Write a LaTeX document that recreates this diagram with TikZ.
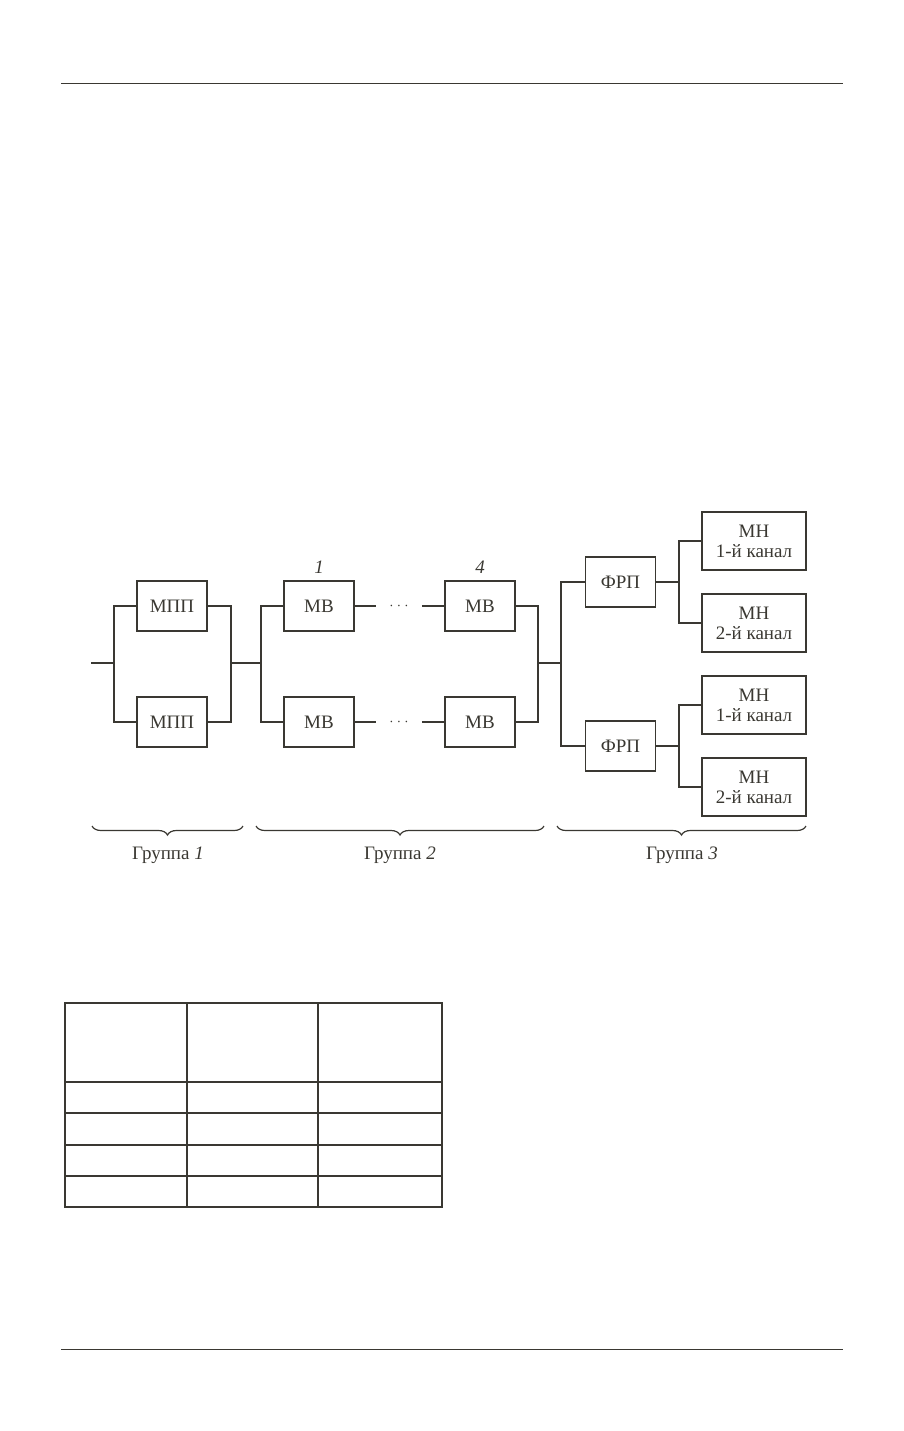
\documentclass[tikz,border=0pt]{standalone}
\usepackage{fontspec}
\setmainfont{Liberation Serif}
\usetikzlibrary{decorations.pathreplacing}
\definecolor{ink}{HTML}{3A3832}

\begin{document}
\begin{tikzpicture}[x=0.5pt,y=-0.5pt,line width=0.75pt,draw=ink,text=ink,
        blk/.style={draw,minimum width=35pt,minimum height=25pt,inner sep=0pt,font=\fontsize{9.5}{10}\selectfont},
        mn/.style={draw,minimum width=52pt,minimum height=29pt,inner sep=0pt,align=center,font=\fontsize{9.5}{10}\selectfont},
        gap/.style={minimum width=22pt,inner sep=0pt,font=\scriptsize},
        grp/.style={decorate,decoration={brace,mirror,amplitude=4.5pt}},
        lbl/.style={font=\fontsize{9.5}{10}\selectfont}]
        \useasboundingbox (0,0) rectangle (904,1431);
        % page rules
        \draw[line width=0.5pt] (61,83) -- (843,83);
        \draw[line width=0.5pt] (61,1349) -- (843,1349);

        % group 1
        \node[blk] (mpp1) at (172,606) {МПП};
        \node[blk] (mpp2) at (172,722) {МПП};
        % group 2
        \node[blk] (mv1) at (319,606) {МВ};
        \node[blk] (mv2) at (319,722) {МВ};
        \node[gap] (dt1) at (399,606) {$\cdots$};
        \node[gap] (dt2) at (399,722) {$\cdots$};
        \node[blk] (mv3) at (480,606) {МВ};
        \node[blk] (mv4) at (480,722) {МВ};
        \node[lbl] (n1) at (319,567) {\textit{1}};
        \node[lbl] (n4) at (480,567) {\textit{4}};
        % group 3
        \node[blk] (frp1) at (620.5,582) {ФРП};
        \node[blk] (frp2) at (620.5,746) {ФРП};
        \node[mn] (mn1) at (754,541) {МН\\1-й канал};
        \node[mn] (mn2) at (754,623) {МН\\2-й канал};
        \node[mn] (mn3) at (754,705) {МН\\1-й канал};
        \node[mn] (mn4) at (754,787) {МН\\2-й канал};

        % connections
        \coordinate (in) at (91,663);
        \coordinate (s1) at (114,663);
        \coordinate (m1) at (231,663);
        \coordinate (s2) at (261,663);
        \coordinate (m2) at (538,663);
        \coordinate (s3) at (561,663);
        \coordinate (s4) at (679,582);
        \coordinate (s5) at (679,746);
        \draw (in) -- (s1);
        \draw (mpp1.west) -| (s1) |- (mpp2.west);
        \draw (mpp1.east) -| (m1) |- (mpp2.east);
        \draw (m1) -- (s2);
        \draw (mv1.west) -| (s2) |- (mv2.west);
        \draw (mv1) -- (dt1) -- (mv3);
        \draw (mv2) -- (dt2) -- (mv4);
        \draw (mv3.east) -| (m2) |- (mv4.east);
        \draw (m2) -- (s3);
        \draw (frp1.west) -| (s3) |- (frp2.west);
        \draw (frp1) -- (s4);
        \draw (mn1.west) -| (s4) |- (mn2.west);
        \draw (frp2) -- (s5);
        \draw (mn3.west) -| (s5) |- (mn4.west);

        % groups
        \draw[grp,line width=0.6pt] (92,826) -- (243,826);
        \draw[grp,line width=0.6pt] (256,826) -- (544,826);
        \draw[grp,line width=0.6pt] (557,826) -- (806,826);
        \node[lbl] (g1) at (168,855) {Группа \textit{1}};
        \node[lbl] (g2) at (400,855) {Группа \textit{2}};
        \node[lbl] (g3) at (682,855) {Группа \textit{3}};

        % table
        \draw[line width=0.6pt] (65,1003) rectangle (442,1207);
        \draw[line width=0.6pt] (187,1003) -- (187,1207);
        \draw[line width=0.6pt] (318,1003) -- (318,1207);
        \foreach \y in {1082,1113,1145,1176}
            \draw[line width=0.6pt] (65,\y) -- (442,\y);
    \end{tikzpicture}
\end{document}
